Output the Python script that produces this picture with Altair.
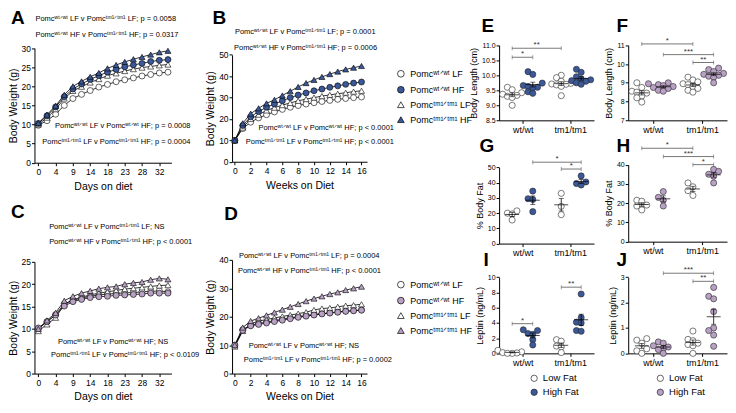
import altair as alt
import pandas as pd

FONT = "Liberation Sans"
W, H = 718, 392
SX = W / 732
SY = H / 406


def gx(x):
    return round((x - 4) * SX, 2)


def gy(y):
    return round((y - 4) * SY, 2)


BLUE = "#3b5899"
PURPLE = "#b9a0c5"
EDGE = "#262626"

SW = "ʷᵗᐟʷᵗ"
ST = "ᵗᵐ¹ᐟᵗᵐ¹"

GROUPS = ["wtLF", "wtHF", "tmLF", "tmHF"]
SHAPES = ["circle", "circle", "triangle-up", "triangle-up"]
LEGEND_LABELS = [f"Pomc{SW} LF", f"Pomc{SW} HF", f"Pomc{ST} LF", f"Pomc{ST} HF"]

# ---------------- growth curves ----------------
day_tick_index = [0, 2, 4, 6, 8, 10, 12, 14]
day_tick_labels = ["0", "4", "9", "14", "18", "23", "28", "32"]
week_ticks = [0, 2, 4, 6, 8, 10, 12, 14, 16]
week_tick_labels = ["0", "2", "4", "6", "8", "10", "12", "14", "16"]

A_wtLF = [9.8, 11.0, 12.7, 15.0, 16.8, 17.9, 18.9, 19.8, 20.5, 21.2, 21.7, 22.2, 22.7, 23.1, 23.5, 23.7]
A_wtHF = [10.3, 12.3, 14.6, 17.3, 19.3, 20.6, 21.8, 22.8, 23.7, 24.4, 25.1, 25.6, 26.0, 26.5, 26.8, 27.0]
A_tmLF = [10.0, 11.8, 14.0, 16.8, 18.8, 19.9, 21.0, 21.9, 22.8, 23.4, 24.0, 24.5, 24.9, 25.2, 25.5, 25.7]
A_tmHF = [10.4, 12.6, 14.9, 17.8, 20.0, 21.3, 22.5, 23.5, 24.7, 25.6, 26.4, 27.1, 27.7, 28.3, 28.9, 29.3]

B_wtLF = [10.0, 15.5, 18.5, 20.5, 22.0, 23.3, 24.5, 25.5, 26.3, 27.0, 27.6, 28.2, 28.7, 29.2, 29.6, 30.0, 30.3]
B_wtHF = [10.0, 17.0, 21.0, 23.5, 25.5, 27.0, 28.5, 30.0, 31.2, 32.2, 33.2, 34.0, 34.8, 35.5, 36.2, 36.8, 37.3]
B_tmLF = [10.0, 16.0, 20.0, 22.0, 24.0, 25.3, 26.5, 27.5, 28.5, 29.3, 30.0, 30.7, 31.3, 31.8, 32.3, 32.8, 33.2]
B_tmHF = [10.0, 18.0, 22.5, 25.0, 27.3, 29.0, 31.0, 33.0, 35.0, 36.8, 38.3, 39.7, 41.0, 42.2, 43.2, 44.0, 44.8]

C_wtLF = [10.0, 11.6, 13.2, 15.6, 16.4, 16.9, 17.3, 17.6, 17.8, 17.9, 18.1, 18.1, 18.3, 18.4, 18.5, 18.3]
C_wtHF = [10.2, 11.6, 13.1, 15.1, 16.1, 16.6, 17.0, 17.2, 17.3, 17.5, 17.6, 17.7, 17.8, 18.0, 18.0, 18.0]
C_tmLF = [9.5, 11.0, 12.5, 15.5, 16.5, 17.1, 17.6, 18.0, 18.3, 18.6, 18.9, 19.1, 19.3, 19.5, 19.7, 19.8]
C_tmHF = [10.0, 11.9, 13.6, 16.3, 17.3, 18.0, 18.5, 19.0, 19.3, 19.5, 20.0, 20.3, 20.5, 21.0, 21.3, 21.1]

D_wtLF = [10.0, 15.5, 17.0, 17.6, 18.1, 18.6, 19.1, 19.6, 20.0, 20.4, 20.8, 21.1, 21.4, 21.7, 22.0, 22.2, 22.4]
D_wtHF = [10.0, 15.2, 16.8, 17.3, 17.8, 18.3, 18.8, 19.3, 19.8, 20.2, 20.6, 21.0, 21.3, 21.6, 21.9, 22.1, 22.3]
D_tmLF = [9.5, 15.0, 17.5, 18.5, 19.0, 19.6, 20.1, 20.6, 21.1, 21.6, 22.4, 22.9, 23.1, 23.5, 23.9, 24.1, 24.4]
D_tmHF = [10.0, 16.2, 18.5, 19.5, 20.5, 21.5, 22.5, 23.5, 24.5, 25.5, 26.4, 27.2, 28.0, 28.6, 29.4, 30.0, 30.6]

# ---------------- scatter panels ----------------
E_wtLF = [9.60, 9.52, 9.42, 9.37, 9.33, 9.30, 9.26, 9.00]
E_wtHF = [10.12, 10.03, 9.74, 9.66, 9.63, 9.60, 9.58, 9.45, 9.40]
E_tmLF = [10.00, 9.92, 9.80, 9.73, 9.71, 9.70, 9.68, 9.63, 9.32]
E_tmHF = [10.20, 10.10, 9.95, 9.88, 9.85, 9.82, 9.80, 9.75, 9.70]

F_wtLF = [9.00, 8.75, 8.55, 8.50, 8.45, 8.30, 8.20, 7.97]
F_wtHF = [9.00, 8.95, 8.90, 8.85, 8.80, 8.75, 8.70, 8.60, 8.55]
F_tmLF = [9.30, 9.15, 9.05, 8.95, 8.90, 8.80, 8.70, 8.60, 8.50]
F_tmHF = [9.78, 9.70, 9.60, 9.50, 9.45, 9.40, 9.35, 9.30, 9.00]

G_wtLF = [21.5, 20.0, 19.5, 15.5]
G_wtHF = [34.5, 29.5, 29.0, 21.0]
G_tmLF = [33.0, 24.5, 19.0]
G_tmHF = [44.5, 40.5, 39.5, 38.5]

H_wtLF = [21.5, 21.0, 19.0, 18.5, 16.5]
H_wtHF = [26.0, 23.0, 21.5, 18.5]
H_tmLF = [30.5, 28.5, 26.5, 24.0]
H_tmHF = [37.5, 36.5, 35.0, 34.0, 30.5]

I_wtLF = [0.40, 0.20, 0.10, 0.05, 0.00, 0.00]
I_wtHF = [3.10, 3.00, 2.60, 2.50, 1.80, 1.10]
I_tmLF = [1.80, 1.60, 0.95, 0.85, 0.10]
I_tmHF = [7.80, 4.70, 4.10, 4.00, 3.00, 2.90]

J_wtLF = [0.58, 0.52, 0.40, 0.18, 0.10, 0.00]
J_wtHF = [0.45, 0.40, 0.30, 0.25, 0.20, 0.15, 0.00]
J_tmLF = [0.88, 0.55, 0.50, 0.40, 0.35, 0.30, 0.00]
J_tmHF = [2.60, 2.25, 2.15, 1.65, 1.00, 0.90, 0.72, 0.28]

genotype_labels = ["wt/wt", "tm1/tm1"]
diet_labels = ["Low Fat", "High Fat"]

E_brackets = [("wtLF", "wtHF", 10.6, "*"), ("wtLF", "tmLF", 10.9, "**")]
F_brackets = [("wtLF", "tmLF", 11.07, "*"), ("wtHF", "tmHF", 10.5, "***"), ("tmLF", "tmHF", 10.08, "**")]
G_brackets = [("wtHF", "tmHF", 53.5, "*"), ("tmLF", "tmHF", 49.0, "*")]
H_brackets = [("wtLF", "tmLF", 48.5, "*"), ("wtHF", "tmHF", 44.2, "***"), ("tmLF", "tmHF", 40.0, "*")]
I_brackets = [("wtLF", "wtHF", 3.9, "*"), ("tmLF", "tmHF", 8.7, "**")]
J_brackets = [("wtHF", "tmHF", 3.16, "***"), ("tmLF", "tmHF", 2.84, "**")]

CENT = {"wtLF": 0.55, "wtHF": 1.42, "tmLF": 2.62, "tmHF": 3.46}


def js(v):
    return f"'{v}'" if isinstance(v, str) else str(v)


def ternary(field, keys, labels):
    expr = js(labels[-1])
    for k, lab in list(zip(keys, labels))[-2::-1]:
        expr = f"{field} == {js(k)} ? {js(lab)} : {expr}"
    return expr


def note(x, y, s, size=7.5, weight="normal", baseline="middle", align="left", color="black"):
    return alt.Chart(alt.Data(values=[{"t": s}])).mark_text(
        align=align, baseline=baseline, fontSize=size, fontWeight=weight, color=color, font=FONT
    ).encode(x=alt.value(gx(x)), y=alt.value(gy(y)), text="t:N")


def letter(x, y, s):
    return note(x, y, s, size=19, weight="bold", baseline="alphabetic")


def growth(series, xdomain, xr, yr, ydomain, ystep, tick_vals, tick_labels, xtitle,
           hf_color, legend=None):
    rows = []
    for g in ["wtLF", "tmLF", "wtHF", "tmHF"]:
        for i, v in enumerate(series[g]):
            rows.append({"x": i, "y": v, "g": g})
    df = pd.DataFrame(rows)
    xs = alt.Scale(domain=xdomain, range=[gx(xr[0]), gx(xr[1])], nice=False, zero=False)
    ys = alt.Scale(domain=ydomain, range=[gy(yr[0]), gy(yr[1])], nice=False, zero=False)
    xaxis = alt.Axis(orient="bottom", offset=round(gy(yr[0]) - H, 2), values=tick_vals,
                     labelExpr=ternary("datum.value", tick_vals, tick_labels), title=xtitle,
                     labelFontSize=8.5, titleFontSize=10.5, tickSize=3, labelPadding=2,
                     titlePadding=5, labelFlush=False, labelOverlap=False)
    yaxis = alt.Axis(orient="left", offset=-gx(xr[0]), values=list(range(0, ydomain[1] + 1, ystep)),
                     title="Body Weight (g)", labelFontSize=8.5, titleFontSize=10.5, tickSize=3,
                     labelPadding=1, titlePadding=3, labelOverlap=False)
    line = alt.Chart(df).mark_line(color="black", strokeWidth=0.8).encode(
        x=alt.X("x:Q", scale=xs, axis=xaxis), y=alt.Y("y:Q", scale=ys, axis=yaxis), detail="g:N")
    fill_range = ["white", hf_color, "white", hf_color]
    pts = alt.Chart(df).mark_point(filled=True, size=36, strokeWidth=0.6, opacity=1).encode(
        x=alt.X("x:Q", scale=xs, axis=None), y=alt.Y("y:Q", scale=ys, axis=None),
        shape=alt.Shape("g:N", scale=alt.Scale(domain=GROUPS, range=SHAPES), legend=legend),
        fill=alt.Fill("g:N", scale=alt.Scale(domain=GROUPS, range=fill_range), legend=legend),
        stroke=alt.Stroke("g:N", scale=alt.Scale(domain=GROUPS, range=["black"] * 4), legend=legend))
    return [line, pts]


def swarm(vals, ppu, step=0.2, dia=5.0):
    order = sorted(range(len(vals)), key=lambda i: vals[i])
    placed = []
    out = [0.0] * len(vals)
    for i in order:
        y = vals[i] * ppu
        chosen = 0
        for c in [0, -1, 1, -2, 2, -3, 3]:
            if all(abs(y - py) >= dia or pc != c for py, pc in placed):
                chosen = c
                break
        placed.append((y, chosen))
        out[i] = chosen * step
    return out


def scatter(vals, xr, yr, ydomain, yvalues, yfmt, ytitle, hf_color, brackets, legend=None):
    ppu = (gy(yr[0]) - gy(yr[1])) / (ydomain[1] - ydomain[0])
    rows = []
    for g in GROUPS:
        offs = swarm(vals[g], ppu)
        for v, o in zip(vals[g], offs):
            rows.append({"g": g, "diet": g[2:], "xc": CENT[g], "xp": CENT[g] + o, "v": v})
    df = pd.DataFrame(rows)
    xs = alt.Scale(domain=[0, 4], range=[gx(xr[0]), gx(xr[1])], nice=False, zero=False)
    ys = alt.Scale(domain=ydomain, range=[gy(yr[0]), gy(yr[1])], nice=False, zero=False)
    xaxis = alt.Axis(orient="bottom", offset=round(gy(yr[0]) - H, 2), values=[1, 3],
                     labelExpr=ternary("datum.value", [1, 3], genotype_labels), title=None,
                     labelFontSize=9, tickSize=3, labelPadding=2, labelFlush=False, labelOverlap=False)
    yaxis = alt.Axis(orient="left", offset=-gx(xr[0]), values=yvalues, format=yfmt, title=ytitle,
                     labelFontSize=7, titleFontSize=9, tickSize=3, labelPadding=1, titlePadding=3,
                     labelOverlap=False)
    pts = alt.Chart(df).mark_point(filled=True, size=38, strokeWidth=0.6, opacity=1).encode(
        x=alt.X("xp:Q", scale=xs, axis=xaxis), y=alt.Y("v:Q", scale=ys, axis=yaxis),
        fill=alt.Fill("diet:N", scale=alt.Scale(domain=["LF", "HF"], range=["white", hf_color]), legend=legend),
        stroke=alt.Stroke("diet:N", scale=alt.Scale(domain=["LF", "HF"], range=[EDGE, EDGE]), legend=legend))
    agg = alt.Chart(df).transform_aggregate(m="mean(v)", s="stderr(v)", groupby=["xc"]).transform_calculate(
        lo="datum.m - datum.s", hi="datum.m + datum.s")
    mean_tick = agg.mark_tick(orient="horizontal", size=14, thickness=1, color="black").encode(
        x=alt.X("xc:Q", scale=xs, axis=None), y=alt.Y("m:Q", scale=ys, axis=None))
    err = agg.mark_rule(color="black", strokeWidth=0.8).encode(
        x=alt.X("xc:Q", scale=xs, axis=None), y=alt.Y("lo:Q", scale=ys, axis=None), y2="hi:Q")
    caps = agg.transform_fold(["lo", "hi"], as_=["k", "cv"]).mark_tick(
        orient="horizontal", size=5, thickness=0.8, color="black").encode(
        x=alt.X("xc:Q", scale=xs, axis=None), y=alt.Y("cv:Q", scale=ys, axis=None))
    brows = [{"x1": CENT[a], "x2": CENT[b], "xm": (CENT[a] + CENT[b]) / 2, "y": y, "lab": lab}
             for a, b, y, lab in brackets]
    bdf = pd.DataFrame(brows)
    brule = alt.Chart(bdf).mark_rule(color="#555555", strokeWidth=0.8).encode(
        x=alt.X("x1:Q", scale=xs, axis=None), x2="x2:Q", y=alt.Y("y:Q", scale=ys, axis=None))
    bends = alt.Chart(bdf).transform_fold(["x1", "x2"], as_=["k", "ex"]).mark_tick(
        orient="vertical", size=4, thickness=0.8, color="#555555").encode(
        x=alt.X("ex:Q", scale=xs, axis=None), y=alt.Y("y:Q", scale=ys, axis=None))
    stars = alt.Chart(bdf).mark_text(baseline="bottom", dy=1, fontSize=8, color="#333333", font=FONT).encode(
        x=alt.X("xm:Q", scale=xs, axis=None), y=alt.Y("y:Q", scale=ys, axis=None), text="lab:N")
    return [pts, err, caps, mean_tick, brule, bends, stars]


def group_legend(x, y):
    return alt.Legend(orient="none", legendX=gx(x), legendY=gy(y), title=None,
                      labelExpr=ternary("datum.label", GROUPS, LEGEND_LABELS), labelFontSize=9,
                      symbolSize=45, symbolStrokeWidth=0.7,
                      rowPadding=5, labelOffset=5, padding=0)


def diet_legend(x, y):
    return alt.Legend(orient="none", legendX=gx(x), legendY=gy(y), title=None,
                      labelExpr=ternary("datum.label", ["LF", "HF"], diet_labels), labelFontSize=9.5,
                      symbolSize=40, symbolStrokeWidth=0.7,
                      rowPadding=3, labelOffset=4, padding=0)


def pair(a, b, diet):
    return f"Pomc{a} {diet} v Pomc{b} {diet}"


units = []
units += growth({"wtLF": A_wtLF, "wtHF": A_wtHF, "tmLF": A_tmLF, "tmHF": A_tmHF},
                [-0.45, 15.4], (28, 168), (161, 42), [0, 30], 5, day_tick_index, day_tick_labels,
                "Days on diet", BLUE)
units += [letter(4, 17, "A"),
          note(29, 12, pair(SW, ST, "LF") + ";  p = 0.0058"),
          note(29, 28, pair(SW, ST, "HF") + ";  p = 0.0317"),
          note(49, 123, f"Pomc{SW} LF v Pomc{SW} HF;  p = 0.0008"),
          note(36, 139, f"Pomc{ST} LF v Pomc{ST} HF;  p = 0.0004")]

units += growth({"wtLF": B_wtLF, "wtHF": B_wtHF, "tmLF": B_tmLF, "tmHF": B_tmHF},
                [-0.35, 16.7], (230, 368), (160, 49), [0, 50], 10, week_ticks, week_tick_labels,
                "Weeks on Diet", BLUE, legend=group_legend(398, 64))
units += [letter(210, 17, "B"),
          note(233, 25, pair(SW, ST, "LF") + ";  p = 0.0001"),
          note(232, 42, pair(SW, ST, "HF") + ";  p = 0.0006"),
          note(257, 125, f"Pomc{SW} LF v Pomc{SW} HF;  p < 0.0001"),
          note(244, 140, f"Pomc{ST} LF v Pomc{ST} HF;  p < 0.0001")]

units += growth({"wtLF": C_wtLF, "wtHF": C_wtHF, "tmLF": C_tmLF, "tmHF": C_tmHF},
                [-0.45, 15.4], (28, 168), (380, 264), [0, 25], 5, day_tick_index, day_tick_labels,
                "Days on diet", PURPLE)
units += [letter(4, 218, "C"),
          note(43, 228, pair(SW, ST, "LF") + ";  NS"),
          note(43, 243, pair(SW, ST, "HF") + ";  p < 0.0001"),
          note(52, 347, f"Pomc{SW} LF v Pomc{SW} HF;  NS"),
          note(45, 361, f"Pomc{ST} LF v Pomc{ST} HF;  p < 0.0109")]

units += growth({"wtLF": D_wtLF, "wtHF": D_wtHF, "tmLF": D_tmLF, "tmHF": D_tmHF},
                [-0.35, 16.7], (230, 368), (380, 262), [0, 40], 10, week_ticks, week_tick_labels,
                "Weeks on Diet", PURPLE, legend=group_legend(398, 283))
units += [letter(222, 220, "D"),
          note(237, 258, pair(SW, ST, "LF") + ";  p = 0.0004"),
          note(236, 273, pair(SW, ST, "HF") + ";  p < 0.0001"),
          note(247, 351, f"Pomc{SW} LF v Pomc{SW} HF;  NS"),
          note(242, 366, f"Pomc{ST} LF v Pomc{ST} HF;  p = 0.0002")]

units += scatter({"wtLF": E_wtLF, "wtHF": E_wtHF, "tmLF": E_tmLF, "tmHF": E_tmHF},
                 (503, 600), (117, 39), [8.5, 11.0], [8.5, 9.0, 9.5, 10.0, 10.5, 11.0], ".1f",
                 "Body Length (cm)", BLUE, E_brackets)
units += [letter(485, 25, "E")]
units += scatter({"wtLF": F_wtLF, "wtHF": F_wtHF, "tmLF": F_tmLF, "tmHF": F_tmHF},
                 (635, 736), (117, 39), [7, 11], [7, 8, 9, 10, 11], "d",
                 "Body Length (cm)", PURPLE, F_brackets)
units += [letter(623, 25, "F")]
units += scatter({"wtLF": G_wtLF, "wtHF": G_wtHF, "tmLF": G_tmLF, "tmHF": G_tmHF},
                 (503, 600), (245, 166), [0, 50], [0, 10, 20, 30, 40, 50], "d",
                 "% Body Fat", BLUE, G_brackets)
units += [letter(483, 150, "G")]
units += scatter({"wtLF": H_wtLF, "wtHF": H_wtHF, "tmLF": H_tmLF, "tmHF": H_tmHF},
                 (635, 736), (243, 163), [0, 40], [0, 10, 20, 30, 40], "d",
                 "% Body Fat", PURPLE, H_brackets)
units += [letter(623, 150, "H")]
units += scatter({"wtLF": I_wtLF, "wtHF": I_wtHF, "tmLF": I_tmLF, "tmHF": I_tmHF},
                 (503, 600), (359, 280), [0, 10], [0, 2, 4, 6, 8, 10], "d",
                 "Leptin (ng/mL)", BLUE, I_brackets, legend=diet_legend(534, 380))
units += [letter(487, 268, "I")]
units += scatter({"wtLF": J_wtLF, "wtHF": J_wtHF, "tmLF": J_tmLF, "tmHF": J_tmHF},
                 (635, 736), (359, 280), [0, 3], [0, 1, 2, 3], "d",
                 "Leptin (ng/mL)", PURPLE, J_brackets, legend=diet_legend(663, 380))
units += [letter(623, 268, "J")]

chart = alt.layer(*units).resolve_scale(
    x="independent", y="independent", fill="independent", shape="independent", stroke="independent"
).properties(width=W, height=H, padding=0).configure(font=FONT).configure_view(
    strokeWidth=0
).configure_axis(
    domainColor="black", tickColor="black", labelColor="black", titleColor="black", grid=False,
    titleFontWeight="normal", domainWidth=1, tickWidth=1, labelFont=FONT, titleFont=FONT
).configure_legend(labelFont=FONT, labelColor="black")

chart.save("out.html", embed_options={"renderer": "svg", "actions": False})
